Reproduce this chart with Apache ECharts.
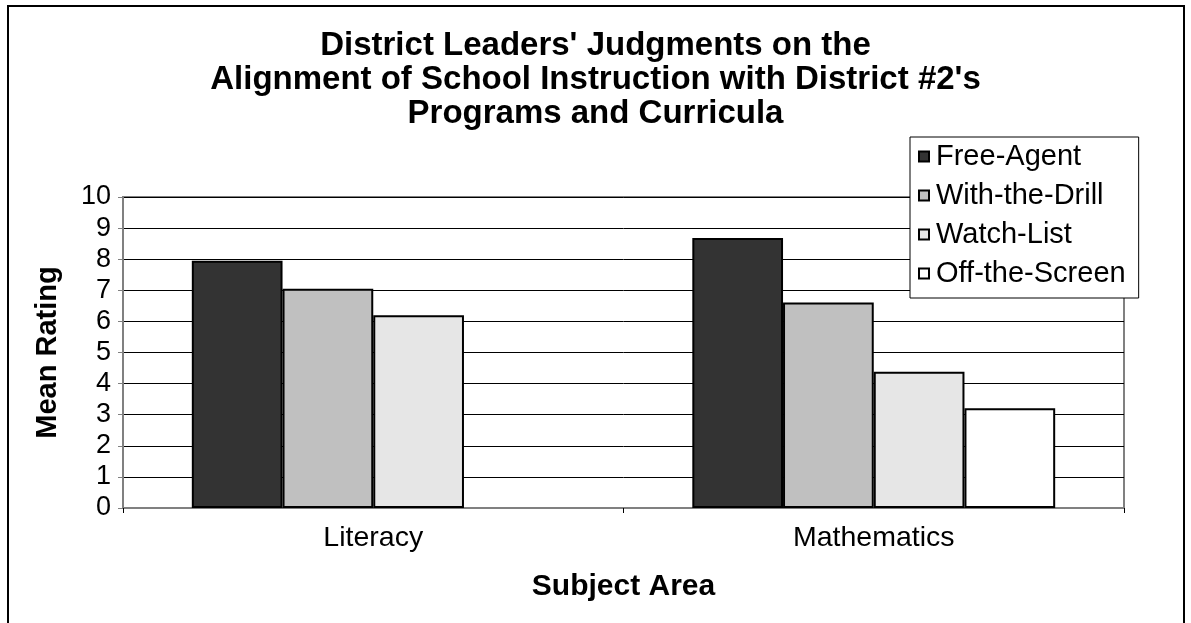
<!DOCTYPE html>
<html>
<head>
<meta charset="utf-8">
<script src="https://cdn.jsdelivr.net/npm/echarts@6/dist/echarts.min.js"></script>
<style>
html,body{margin:0;padding:0;background:#fff;}
#chart{width:1191px;height:623px;}
</style>
</head>
<body>
<div id="chart"></div>
<script>
const categories = ['Literacy', 'Mathematics'];
const seriesNames = ['Free-Agent', 'With-the-Drill', 'Watch-List', 'Off-the-Screen'];
const freeAgent = [7.95, 8.68];
const withTheDrill = [7.05, 6.61];
const watchList = [6.2, 4.38];
const offTheScreen = [null, 3.21];
const yTicks = [0, 1, 2, 3, 4, 5, 6, 7, 8, 9, 10];
const colors = ['#333333', '#C0C0C0', '#E6E6E6', '#FFFFFF'];

const FONT = '"Liberation Sans", Arial, sans-serif';
const allValues = [freeAgent, withTheDrill, watchList, offTheScreen];

const chart = echarts.init(document.getElementById('chart'), null, {renderer: 'canvas'});
chart.setOption({
  backgroundColor: '#ffffff',
  animation: false,
  title: {
    text: "District Leaders' Judgments on the\nAlignment of School Instruction with District #2's\nPrograms and Curricula",
    left: 'center',
    top: 24,
    textStyle: {fontFamily: FONT, fontWeight: 'bold', fontSize: 33, lineHeight: 34, color: '#000'}
  },
  legend: {
    orient: 'vertical',
    left: 910,
    top: 137,
    padding: [5, 13, 10, 8],
    itemGap: 10,
    itemWidth: 10,
    itemHeight: 10,
    icon: 'rect',
    backgroundColor: '#fff',
    borderColor: '#000',
    borderWidth: 1,
    textStyle: {fontFamily: FONT, fontSize: 29, color: '#000', padding: [0, 0, 0, 2]},
    data: seriesNames
  },
  grid: {
    left: 123, right: 67, top: 197, bottom: 115,
    show: true, borderColor: '#808080', borderWidth: 2, backgroundColor: '#fff'
  },
  xAxis: {
    type: 'category',
    data: categories,
    name: 'Subject Area',
    nameLocation: 'middle',
    nameGap: 64,
    nameTextStyle: {fontFamily: FONT, fontWeight: 'bold', fontSize: 30, color: '#000'},
    axisLine: {show: true, lineStyle: {color: '#808080', width: 2}},
    axisTick: {show: true, length: 5, lineStyle: {color: '#000'}},
    axisLabel: {fontFamily: FONT, fontSize: 28.5, color: '#000', margin: 16}
  },
  yAxis: {
    type: 'value',
    min: yTicks[0],
    max: yTicks[yTicks.length - 1],
    interval: 1,
    name: 'Mean Rating',
    nameLocation: 'middle',
    nameGap: 61,
    nameRotate: 90,
    nameTextStyle: {fontFamily: FONT, fontWeight: 'bold', fontSize: 29, color: '#000'},
    axisLine: {show: true, lineStyle: {color: '#808080', width: 2}},
    axisTick: {show: true, length: 5, lineStyle: {color: '#808080'}},
    axisLabel: {fontFamily: FONT, fontSize: 27, color: '#000', margin: 12},
    splitLine: {show: true, lineStyle: {color: '#000', width: 1}}
  },
  series: seriesNames.map((n, i) => ({
    name: n,
    type: 'bar',
    data: allValues[i],
    barGap: '0%',
    barCategoryGap: '27.5%',
    itemStyle: {color: colors[i], borderColor: '#000', borderWidth: 2}
  })),
  graphic: [{
    type: 'rect',
    shape: {x: 8, y: 6, width: 1176, height: 700},
    style: {fill: 'none', stroke: '#000', lineWidth: 2},
    silent: true,
    z: 100
  }]
});
</script>
</body>
</html>
